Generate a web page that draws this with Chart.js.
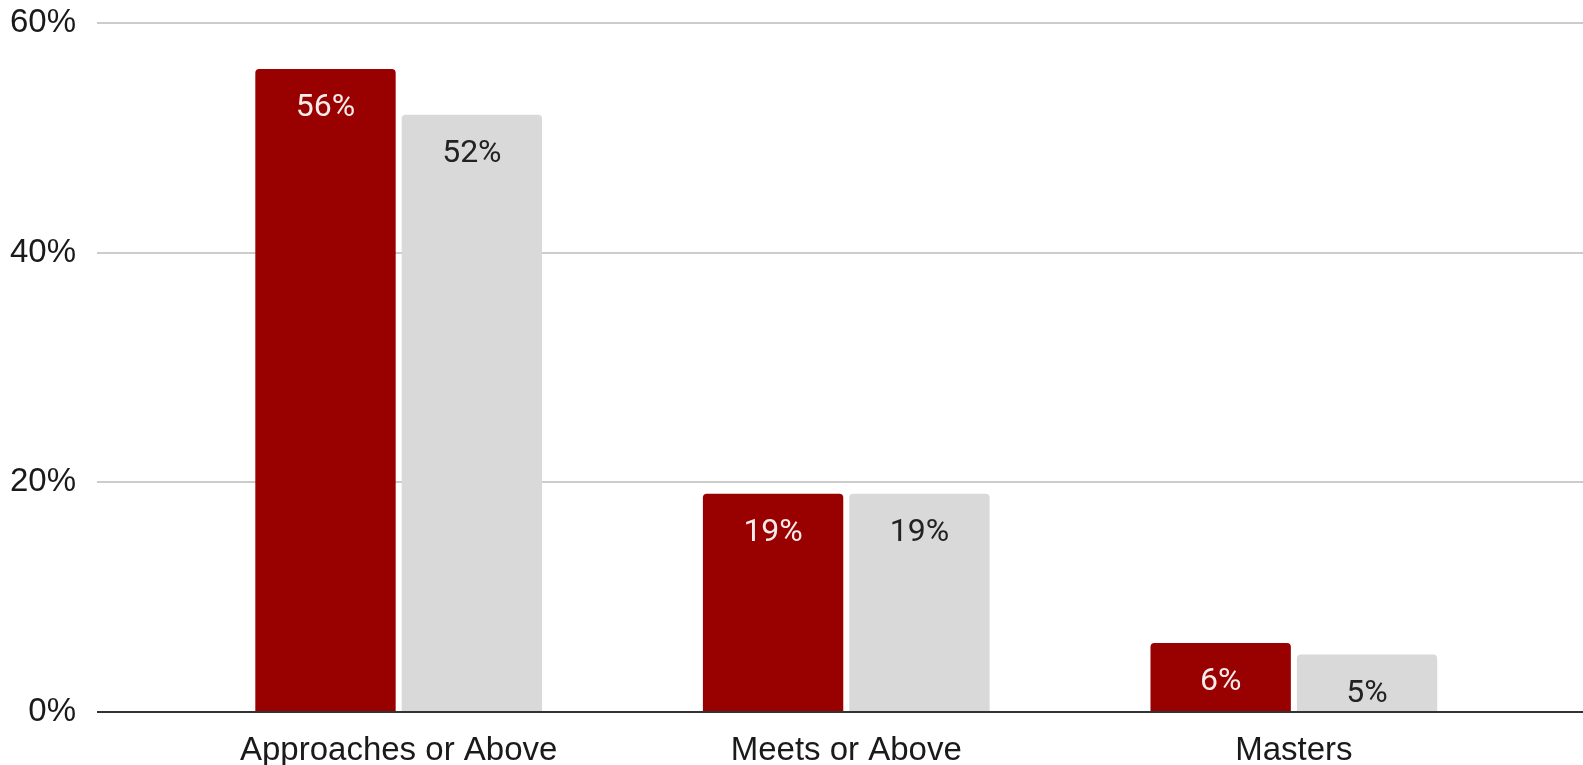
<!DOCTYPE html>
<html>
<head>
<meta charset="utf-8">
<script src="https://cdn.jsdelivr.net/npm/chart.js@4"></script>
<style>
  html, body { margin: 0; padding: 0; background: #fff; }
  #wrap { width: 1583px; height: 765px; }
</style>
</head>
<body>
<div id="wrap"><canvas id="myChart" width="1583" height="765"></canvas></div>
<script>
// chart data
const categories = ['Approaches or Above', 'Meets or Above', 'Masters'];
const seriesA = [56, 19, 6];   // dark red bars
const seriesB = [52, 19, 5];   // grey bars
const yTicks = [0, 20, 40, 60];

const axisFont = { family: '"Liberation Sans", Arial, sans-serif', size: 33 };

// draws the % labels inside the bars
const barLabels = {
  id: 'barLabels',
  afterDatasetsDraw(chart) {
    const ctx = chart.ctx;
    ctx.save();
    ctx.font = '32px Roboto, "Liberation Sans", sans-serif';
    ctx.textAlign = 'center';
    ctx.textBaseline = 'middle';
    chart.data.datasets.forEach((ds, i) => {
      const meta = chart.getDatasetMeta(i);
      ctx.fillStyle = ds.labelColor;
      meta.data.forEach((bar, j) => {
        ctx.fillText(ds.data[j].y + '%', bar.x, bar.y + 39);
      });
    });
    ctx.restore();
  }
};

const config = {
  type: 'bar',
  data: {
    datasets: [
      {
        label: 'A',
        data: seriesA.map((v, i) => ({ x: i, y: v })),
        backgroundColor: '#990000',
        labelColor: '#f6ecec',
        borderRadius: 4,
        categoryPercentage: 0.654,
        barPercentage: 0.959
      },
      {
        label: 'B',
        data: seriesB.map((v, i) => ({ x: i, y: v })),
        backgroundColor: '#d9d9d9',
        labelColor: '#222222',
        borderRadius: 4,
        categoryPercentage: 0.654,
        barPercentage: 0.959
      }
    ]
  },
  options: {
    responsive: false,
    animation: false,
    layout: { padding: { top: 23, left: 0, right: 0, bottom: 0 } },
    plugins: { legend: { display: false }, tooltip: { enabled: false } },
    scales: {
      x: {
        type: 'linear',
        offset: false,
        min: -0.674,
        max: 2.646,
        grid: { display: false, drawTicks: false, offset: false },
        border: { display: false },
        afterBuildTicks: (scale) => {
          scale.ticks = categories.map((c, i) => ({ value: i }));
        },
        afterFit: (scale) => {
          scale.height = 53;
          scale.paddingLeft = 0;
          scale.paddingRight = 0;
        },
        ticks: {
          autoSkip: false,
          maxRotation: 0,
          padding: 19,
          color: '#1a1a1a',
          font: axisFont,
          callback: (v) => categories[v]
        }
      },
      y: {
        min: 0,
        max: 60,
        afterBuildTicks: (scale) => {
          scale.ticks = yTicks.map(v => ({ value: v }));
        },
        afterFit: (scale) => {
          scale.width = 97;
          scale.paddingTop = 0;
          scale.paddingBottom = 0;
        },
        grid: {
          drawTicks: false,
          color: (c) => c.tick && c.tick.value === 0 ? '#333333' : '#cccccc',
          lineWidth: 2
        },
        border: { display: false },
        ticks: {
          padding: 21,
          color: '#1a1a1a',
          font: axisFont,
          callback: (v) => v + '%'
        }
      }
    }
  },
  plugins: [barLabels]
};

new Chart(document.getElementById('myChart').getContext('2d'), config);
</script>
</body>
</html>
